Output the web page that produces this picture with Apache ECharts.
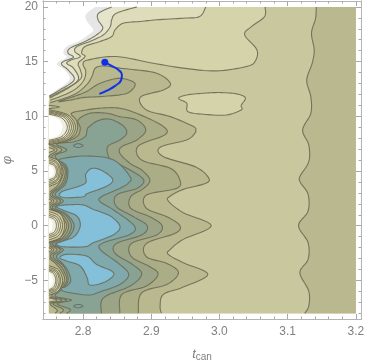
<!DOCTYPE html>
<html>
<head>
<meta charset="utf-8">
<style>
html,body{margin:0;padding:0;background:#fff;}
#main{width:366px;height:363px;filter:blur(0.45px);}
</style>
<script src="https://cdn.jsdelivr.net/npm/echarts@6/dist/echarts.min.js"></script>
</head>
<body>
<div id="main"></div>
<script>
/* ticks */
var xMajor = [2.8,2.9,3.0,3.1,3.2];
var xMinor = [2.76,2.78,2.82,2.84,2.86,2.88,2.92,2.94,2.96,2.98,3.02,3.04,3.06,3.08,3.12,3.14,3.16,3.18];
var yMajor = [-5,0,5,10,15,20];
var yMinor = [-8,-7,-6,-4,-3,-2,-1,1,2,3,4,6,7,8,9,11,12,13,14,16,17,18,19];

/* contours, [t, phi] */
var fringe = [[2.818,20],[2.804,19.3],[2.806,18.67],[2.815,17.9],[2.808,17.45],[2.793,16.84],[2.776,16.38],[2.771,15.77],[2.776,15.4],[2.765,15],[2.762,14.7],[2.774,14.18],[2.78,13.33],[2.761,12.41],[2.749,11.86]];
var level10 = [[2.842,20],[2.823,19.43],[2.822,18.82],[2.829,18.06],[2.82,17.45],[2.803,16.84],[2.781,16.23],[2.778,15.77],[2.786,15.4],[2.771,15],[2.769,14.7],[2.778,14.24],[2.787,13.33],[2.766,12.41],[2.749,11.8]];
var level9 = [[2.879,20],[2.849,19.43],[2.842,18.82],[2.84,18.21],[2.83,17.45],[2.81,16.84],[2.791,16.38],[2.788,15.92],[2.796,15.46],[2.783,15.16],[2.776,14.85],[2.786,14.4],[2.793,13.33],[2.771,12.41],[2.749,11.71]];
var level8 = [[2.98,20],[2.971,19.12],[2.947,18.97],[2.908,18.82],[2.884,18.67],[2.859,18.51],[2.847,17.9],[2.842,17.29],[2.825,16.84],[2.803,16.38],[2.798,15.77],[2.803,15.46],[2.793,14.85],[2.796,14.24],[2.797,13.48],[2.778,12.57],[2.749,11.59]];
var level7 = [[3.067,20],[3.066,19.1],[3.047,18.2],[3.037,17.44],[3.055,16.07],[3.052,15],[3.039,14.54],[2.995,14.15],[2.947,14.4],[2.903,14.85],[2.849,15.46],[2.808,15.16],[2.8,14.79],[2.804,14.09],[2.8,13.18],[2.783,12.26],[2.749,11.4]];
var level7Island = [[2.94,11.64],[2.952,11.95],[2.975,12.1],[3,12.17],[3.025,12.05],[3.038,11.7],[3.032,11],[3.032,10.58],[3.01,10.12],[2.98,10.17],[2.954,10.42],[2.952,11.2]];
var level6Right = [[3.142,20],[3.141,18.96],[3.135,17.6],[3.139,16.07],[3.136,14.85],[3.128,13.3],[3.134,11.8],[3.134,10.27],[3.122,8.75],[3.131,7.38],[3.131,5.85],[3.118,4.5],[3.119,3.93],[3.13,2.87],[3.13,1.34],[3.116,0],[3.13,-1.55],[3.13,-3.08],[3.118,-4.3],[3.131,-5.98],[3.131,-7.35],[3.125,-8]];
var level6 = [[2.749,11.19],[2.786,11.96],[2.805,12.87],[2.813,13.63],[2.818,14.4],[2.83,14.6],[2.854,14.4],[2.869,14.3],[2.908,13.94],[2.928,13.02],[2.918,12.41],[2.884,11.74],[2.893,10.58],[2.928,9.97],[2.962,9.06],[2.965,8.69],[2.964,8.45],[2.952,7.84],[2.913,7.17],[2.918,6.31],[2.964,5.4],[2.983,4.48],[2.981,3.9],[2.947,3.32],[2.928,2.71],[2.925,2.26],[2.947,1.19],[2.988,0],[2.947,-1.25],[2.928,-2.17],[2.925,-2.62],[2.947,-3.39],[2.983,-4.45],[2.947,-5.61],[2.918,-6.28],[2.913,-7.35],[2.915,-8]];
var level5Lobe = [[2.764,11.35],[2.786,11.8],[2.805,12.26],[2.825,13.02],[2.854,13.48],[2.876,13.02],[2.869,12.26],[2.854,11.96],[2.825,11.8],[2.8,11.71],[2.783,11.5]];
var level5 = [[2.759,-8],[2.762,-7.71],[2.752,-7.13],[2.769,-6.8],[2.748,-6.43],[2.765,-5.73],[2.773,-5],[2.77,-4.3],[2.762,-3.6],[2.749,-2.81],[2.757,-2.2],[2.749,-1.65],[2.767,-1.04],[2.776,0],[2.766,0.98],[2.749,1.65],[2.757,2.26],[2.749,2.87],[2.764,3.78],[2.771,4.94],[2.764,5.61],[2.75,6.31],[2.762,6.92],[2.75,7.47],[2.766,7.6],[2.786,8.14],[2.792,8.9],[2.79,9.67],[2.783,10.28],[2.805,10.58],[2.825,10.74],[2.854,10.74],[2.884,10.13],[2.918,9.06],[2.92,8.3],[2.881,7.29],[2.886,6],[2.928,5.25],[2.942,4.18],[2.937,3.41],[2.893,2.8],[2.893,1.59],[2.923,0.82],[2.942,0],[2.935,-0.7],[2.893,-1.62],[2.893,-2.84],[2.923,-3.45],[2.94,-4.3],[2.923,-5.37],[2.886,-6.13],[2.881,-8]];
var level4 = [[2.766,-8],[2.771,-7.65],[2.756,-7.13],[2.776,-6.8],[2.754,-6.43],[2.768,-5.73],[2.776,-5],[2.773,-4.3],[2.766,-3.6],[2.752,-2.81],[2.762,-2.2],[2.752,-1.65],[2.771,-1.04],[2.779,0],[2.77,0.98],[2.752,1.65],[2.762,2.26],[2.752,2.87],[2.768,3.78],[2.774,4.94],[2.768,5.61],[2.754,6.31],[2.769,6.92],[2.754,7.47],[2.771,7.6],[2.791,8.14],[2.796,8.9],[2.793,9.67],[2.81,10.28],[2.835,10.28],[2.854,9.97],[2.879,9.67],[2.892,8.75],[2.879,7.84],[2.857,7.23],[2.854,6.62],[2.869,5.7],[2.886,5.09],[2.898,4.18],[2.889,3.41],[2.87,2.65],[2.87,1.59],[2.898,0.82],[2.916,0],[2.908,-0.85],[2.871,-1.62],[2.871,-2.84],[2.898,-3.75],[2.91,-4.45],[2.893,-5.52],[2.857,-6.28],[2.854,-8]];
var level3 = [[2.776,-8],[2.781,-7.65],[2.762,-7.13],[2.783,-6.8],[2.759,-6.43],[2.771,-5.73],[2.778,-5],[2.776,-4.3],[2.77,-3.6],[2.756,-2.81],[2.767,-2.2],[2.755,-1.65],[2.775,-1.04],[2.783,0],[2.774,0.98],[2.755,1.65],[2.767,2.26],[2.755,2.87],[2.771,3.78],[2.776,4.94],[2.771,5.61],[2.759,6.37],[2.776,6.92],[2.761,7.47],[2.788,7.69],[2.803,8.14],[2.806,8.75],[2.808,9],[2.822,9.6],[2.84,9.73],[2.859,9.12],[2.864,8.45],[2.854,7.84],[2.837,7.29],[2.836,6.62],[2.842,6],[2.869,5.09],[2.889,4.18],[2.879,3.41],[2.849,2.8],[2.849,1.74],[2.874,0.82],[2.894,0],[2.886,-0.85],[2.849,-1.62],[2.847,-2.53],[2.874,-3.6],[2.886,-4.45],[2.869,-5.52],[2.83,-6.59],[2.827,-8]];
var level2 = [[2.766,6.07],[2.805,6.37],[2.845,6],[2.869,4.48],[2.867,3.93],[2.854,3.41],[2.827,2.65],[2.825,2.2],[2.845,1.43],[2.875,0],[2.869,-0.79],[2.83,-1.56],[2.825,-2.17],[2.852,-3.45],[2.867,-4.45],[2.854,-5.37],[2.825,-6.04],[2.808,-6.34],[2.774,-6.04],[2.768,-5.73],[2.776,-5.52],[2.782,-5],[2.778,-4.15],[2.771,-3.54],[2.761,-2.81],[2.771,-2.2],[2.759,-1.71],[2.778,-1.1],[2.787,0],[2.776,1.04],[2.759,1.65],[2.771,2.26],[2.759,2.87],[2.774,3.78],[2.778,4.94],[2.774,5.61]];
var level2LoopTop = [[2.786,7.32],[2.793,7.5],[2.8,7.32],[2.793,7.15]];
var level2LoopBottom = [[2.786,-7.35],[2.793,-7.2],[2.8,-7.35],[2.793,-7.5]];
var blueTop = [[2.813,5.24],[2.827,5.06],[2.842,4.39],[2.842,3.93],[2.83,3.48],[2.806,2.93],[2.8,2.65],[2.774,2.56],[2.765,2.8],[2.771,3.17],[2.791,3.54],[2.804,3.93],[2.804,4.7]];
var blueMiddle = [[2.761,1.74],[2.776,1.9],[2.8,1.9],[2.815,1.49],[2.84,0.88],[2.854,0],[2.849,-0.64],[2.835,-1.1],[2.815,-1.56],[2.803,-1.92],[2.771,-1.92],[2.761,-1.65],[2.774,-1.34],[2.788,-0.95],[2.796,0],[2.791,0.88],[2.774,1.34]];
var blueLower = [[2.766,-2.93],[2.776,-2.62],[2.805,-2.77],[2.82,-3.54],[2.842,-4.15],[2.844,-4.6],[2.83,-5.2],[2.81,-5.43],[2.806,-4.76],[2.796,-3.69],[2.776,-3.23]];

/* rings round the white notches on the left edge, outermost first */
var notch9 = [
    [[2.75,10.6],[2.778,10.12],[2.789,9],[2.778,7.88],[2.75,7.4]],
    [[2.75,10.5],[2.776,10.05],[2.786,9],[2.776,7.95],[2.75,7.5]],
    [[2.75,10.4],[2.774,9.98],[2.783,9],[2.774,8.02],[2.75,7.6]],
    [[2.75,10.3],[2.772,9.91],[2.78,9],[2.772,8.09],[2.75,7.7]],
    [[2.75,10.2],[2.769,9.84],[2.777,9],[2.769,8.16],[2.75,7.8]],
    [[2.75,10.05],[2.764,9.74],[2.77,9],[2.764,8.26],[2.75,7.95]]
];
var notch5 = [
    [[2.75,6.3],[2.764,5.9],[2.769,4.95],[2.764,4],[2.75,3.6]],
    [[2.75,6.15],[2.762,5.79],[2.767,4.95],[2.762,4.11],[2.75,3.75]],
    [[2.75,6],[2.761,5.69],[2.765,4.95],[2.761,4.21],[2.75,3.9]],
    [[2.75,5.85],[2.759,5.58],[2.763,4.95],[2.759,4.32],[2.75,4.05]],
    [[2.75,5.7],[2.758,5.48],[2.761,4.95],[2.758,4.42],[2.75,4.2]],
    [[2.75,5.5],[2.755,5.34],[2.757,4.95],[2.755,4.56],[2.75,4.4]]
];
var notch0 = [
    [[2.75,1.5],[2.767,1.05],[2.773,0],[2.767,-1.05],[2.75,-1.5]],
    [[2.75,1.3],[2.764,0.91],[2.77,0],[2.764,-0.91],[2.75,-1.3]],
    [[2.75,1.1],[2.762,0.77],[2.767,0],[2.762,-0.77],[2.75,-1.1]],
    [[2.75,0.95],[2.76,0.66],[2.764,0],[2.76,-0.66],[2.75,-0.95]],
    [[2.75,0.8],[2.758,0.56],[2.761,0],[2.758,-0.56],[2.75,-0.8]],
    [[2.75,0.6],[2.754,0.42],[2.755,0],[2.754,-0.42],[2.75,-0.6]]
];
var notchM5 = [
    [[2.75,-3.65],[2.764,-4.05],[2.77,-5],[2.764,-5.95],[2.75,-6.35]],
    [[2.75,-3.8],[2.762,-4.16],[2.767,-5],[2.762,-5.84],[2.75,-6.2]],
    [[2.75,-3.95],[2.761,-4.26],[2.765,-5],[2.761,-5.74],[2.75,-6.05]],
    [[2.75,-4.05],[2.759,-4.33],[2.762,-5],[2.759,-5.67],[2.75,-5.95]],
    [[2.75,-4.15],[2.757,-4.4],[2.76,-5],[2.757,-5.6],[2.75,-5.85]],
    [[2.75,-4.3],[2.754,-4.51],[2.756,-5],[2.754,-5.49],[2.75,-5.7]]
];
/* thin stripes between the notches */
var leaves = [
    [[2.75,11],[2.765,10.85],[2.75,10.7]],
    [[2.75,7.15],[2.758,6.92],[2.75,6.7]],
    [[2.75,2.45],[2.754,2.26],[2.75,2.05]],
    [[2.75,-2],[2.754,-2.2],[2.75,-2.4]],
    [[2.75,-6.6],[2.762,-6.8],[2.75,-7]]
];

/* the blue path */
var pathT = [2.824,2.835,2.847,2.856,2.857,2.852,2.842,2.832];
var pathPhi = [12.05,12.35,12.78,13.33,13.79,14.24,14.6,14.95];

var band = {
    blue:"#84c0da", b2:"#7fa9ad", b3:"#88a293", b4:"#9ba487", b5:"#abad86",
    b6:"#b9b88e", b7:"#c8c79e", b8:"#d4d3aa", b9:"#dedcbb", b10:"#e6e5cc", b11:"#eeeedd", fringe:"#e6e6e6"
};
var lineColor = "#6c6c56";
var ringLineColor = "#5f5a40";
var tMin = 2.75, tMax = 3.2, phiMin = -8, phiMax = 20;

/* paint order: highest level first, each one covers what is below it */
var layers = [];
function addOpen(points, tail, color){ layers.push({points:points, tail:tail, color:color, stroke:true}); }
function addClosed(points, color){ layers.push({points:points, closed:true, color:color, stroke:true}); }
/* curves that run from the top edge down to the left edge close round the bottom right */
var aroundBox = [[tMin,phiMin],[tMax,phiMin],[tMax,phiMax]];

layers.push({points:fringe, tail:aroundBox, color:band.fringe, stroke:false});
addOpen(level10, aroundBox, band.b10);
addOpen(level9, aroundBox, band.b9);
addOpen(level8, aroundBox, band.b8);
addOpen(level7, aroundBox, band.b7);
addClosed(level7Island, band.b8);
addOpen(level6Right, [[tMax,phiMin],[tMax,phiMax]], band.b6);
addOpen(level6, [[tMin,phiMin]], band.b6);
addOpen(level5, [], band.b5);
addClosed(level5Lobe, band.b5);
addOpen(level4, [], band.b4);
addOpen(level3, [], band.b3);
addClosed(level2, band.b2);
addClosed(level2LoopTop, band.b2);
addClosed(level2LoopBottom, band.b2);
addClosed(blueTop, band.blue);
addClosed(blueMiddle, band.blue);
addClosed(blueLower, band.blue);
var ringColors = [band.b7, band.b8, band.b9, band.b10, band.b11, "#ffffff"];
[notch9, notch5, notch0, notchM5].forEach(function(notch){
    notch.forEach(function(ring, i){
        layers.push({points:ring, tail:[], color:ringColors[i], stroke:i < 5, ring:true});
    });
});
leaves.forEach(function(leaf){ addOpen(leaf, [], band.b7); });

/* catmull-rom through the read points */
function spline(points, closed){
    var out = [], n = points.length, count = closed ? n : n - 1;
    function at(i){
        if(closed){ return points[(i + n) % n]; }
        return points[Math.max(0, Math.min(n - 1, i))];
    }
    for(var i = 0; i < count; i++){
        var p0 = at(i - 1), p1 = at(i), p2 = at(i + 1), p3 = at(i + 2);
        for(var k = 0; k < 8; k++){
            var s = k / 8, s2 = s * s, s3 = s2 * s;
            out.push([
                0.5 * (2 * p1[0] + (p2[0] - p0[0]) * s + (2 * p0[0] - 5 * p1[0] + 4 * p2[0] - p3[0]) * s2 + (3 * p1[0] - p0[0] - 3 * p2[0] + p3[0]) * s3),
                0.5 * (2 * p1[1] + (p2[1] - p0[1]) * s + (2 * p0[1] - 5 * p1[1] + 4 * p2[1] - p3[1]) * s2 + (3 * p1[1] - p0[1] - 3 * p2[1] + p3[1]) * s3)
            ]);
        }
    }
    if(!closed){ out.push(points[n - 1]); }
    return out;
}
function inBox(p){ return p[0] >= tMin && p[0] <= tMax && p[1] >= phiMin && p[1] <= phiMax; }
function clampBox(p){ return [Math.max(tMin, Math.min(tMax, p[0])), Math.max(phiMin, Math.min(phiMax, p[1]))]; }

function renderLayer(params, api){
    var layer = layers[params.dataIndex];
    var curve = spline(layer.points, layer.closed);
    var fillPts = curve.map(clampBox);
    if(layer.tail){ fillPts = fillPts.concat(layer.tail); }
    var children = [{
        type:"polygon",
        shape:{points:fillPts.map(function(p){ return api.coord(p); })},
        style:{fill:layer.color, stroke:null}
    }];
    if(layer.stroke){
        var run = [];
        var src = layer.closed ? curve.concat([curve[0]]) : curve;
        var lineStyle = {stroke:layer.ring ? ringLineColor : lineColor, fill:null, lineWidth:layer.ring ? 0.9 : 1.1, opacity:0.9};
        src.forEach(function(p, i){
            if(inBox(p)){ run.push(api.coord(p)); }
            if((!inBox(p) || i == src.length - 1) && run.length > 1){
                children.push({type:"polyline", shape:{points:run}, style:lineStyle});
            }
            if(!inBox(p)){ run = []; }
        });
    }
    return {type:"group", children:children};
}

function axis(position, kind, ticks, len, labels){
    var a = {
        type:"value", position:position, z:5,
        min: kind == "x" ? 2.7413 : -8.53,
        max: kind == "x" ? 3.2076 : 20.54,
        axisLine:{show:true, onZero:false, lineStyle:{color:"#b4b4b4", width:1}},
        axisTick:{show:true, inside:true, length:len, customValues:ticks, lineStyle:{color:"#a8a8a8", width:1}},
        axisLabel:{show:false},
        splitLine:{show:false}
    };
    if(labels){
        a.axisLabel = {
            show:true, customValues:ticks, margin:kind == "x" ? 7 : 5, fontSize:12, color:"#7f7f7f", fontFamily:"Liberation Sans",
            formatter:function(v){ return kind == "x" ? Number(v).toFixed(1) : String(v).replace("-","\u2212"); }
        };
    }
    return a;
}

var xMain = axis("bottom","x",xMajor,5,true);
xMain.name = "{t|t}{s|can}";
xMain.nameLocation = "middle";
xMain.nameGap = 28;
xMain.nameTextStyle = {rich:{
    t:{fontSize:13, fontStyle:"italic", color:"#7f7f7f", fontFamily:"Liberation Sans"},
    s:{fontSize:10, color:"#7f7f7f", fontFamily:"Liberation Sans", verticalAlign:"bottom", padding:[5,0,0,0]}
}};
var yMain = axis("left","y",yMajor,5,true);
yMain.name = "\u03c6";
yMain.nameLocation = "middle";
yMain.nameGap = 25;
yMain.nameRotate = 90;
yMain.nameTextStyle = {fontSize:13, fontStyle:"italic", color:"#7f7f7f", fontFamily:"Liberation Sans"};

var chart = echarts.init(document.getElementById("main"));
chart.setOption({
    animation:false,
    backgroundColor:"#ffffff",
    grid:{left:43, right:5, top:1, bottom:44, outerBoundsMode:"none"},
    xAxis:[xMain, axis("bottom","x",xMinor,2.5), axis("top","x",xMajor,5), axis("top","x",xMinor,2.5)],
    yAxis:[yMain, axis("left","y",yMinor,2.5), axis("right","y",yMajor,5), axis("right","y",yMinor,2.5)],
    series:[
        {
            type:"custom", coordinateSystem:"cartesian2d", xAxisIndex:0, yAxisIndex:0, z:2, silent:true,
            renderItem:renderLayer,
            data:layers.map(function(l, i){ return [i]; }),
            encode:{x:[], y:[]}
        },
        {
            type:"line", xAxisIndex:0, yAxisIndex:0, z:3, silent:true,
            smooth:true, symbol:"none",
            lineStyle:{color:"#1230e6", width:2},
            data:pathT.map(function(t, i){
                var point = {value:[t, pathPhi[i]]};
                if(i == pathT.length - 1){
                    point.symbol = "circle";
                    point.symbolSize = 7;
                    point.itemStyle = {color:"#1230e6"};
                }
                return point;
            })
        }
    ]
});
</script>
</body>
</html>
